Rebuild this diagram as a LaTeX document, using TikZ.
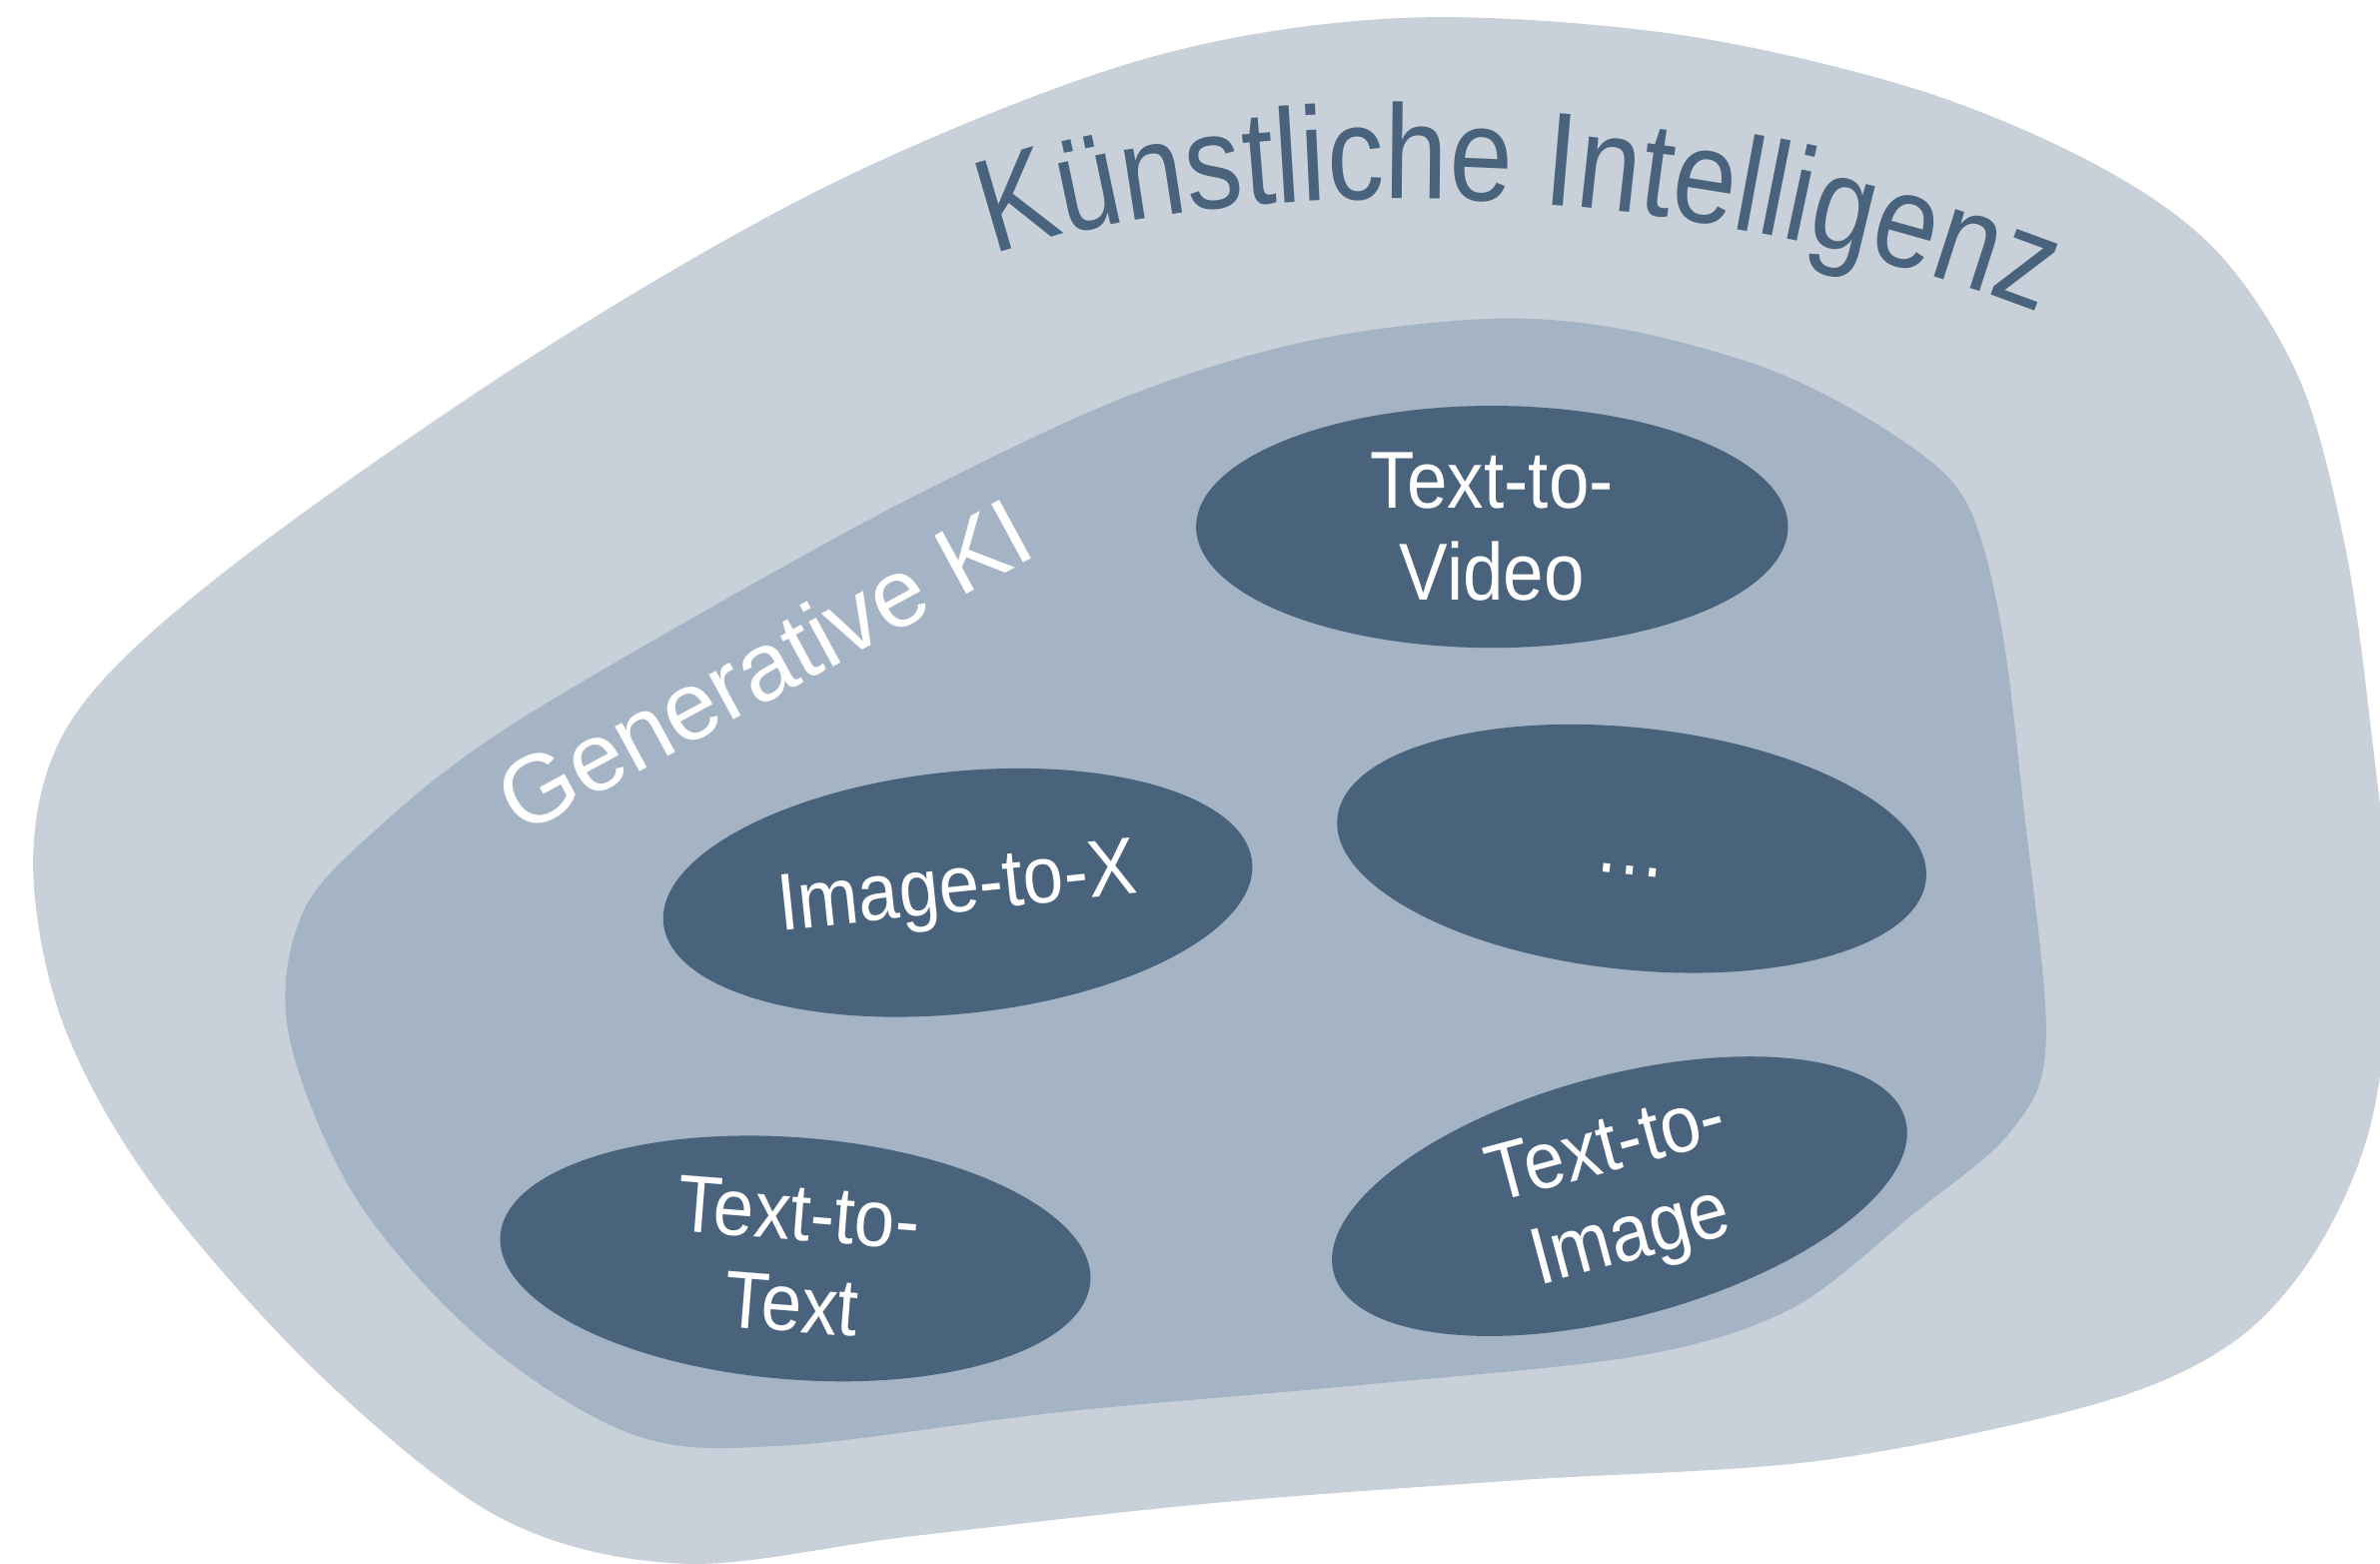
\documentclass[tikz,border=0pt]{standalone}
\usepackage{fontspec}
\setmainfont{Liberation Sans}
\newfontfamily\narrowsans[FakeStretch=0.9]{Liberation Sans}
\newfontfamily\archsans[FakeStretch=0.85]{Liberation Sans}
\usetikzlibrary{shapes.geometric,decorations.text}

\definecolor{kilight}{RGB}{200,208,217}
\definecolor{kimid}{RGB}{165,180,196}
\definecolor{kidark}{RGB}{74,99,125}

\tikzstyle{genmode} = [ellipse, fill=kidark, text=white, inner sep=0pt, align=center, minimum width=5.92cm, minimum height=2.42cm, font=\narrowsans\fontsize{23}{26}\selectfont]
\tikzstyle{fieldlabel} = [anchor=base, text=white, inner sep=0pt, font=\fontsize{27.5}{32}\selectfont]

\begin{document}
\begin{tikzpicture}[x=0.01519cm, y=-0.01519cm]
	\clip (0,0) rectangle (1568,1030);

	% outer field: KI
	\fill[kilight] plot[smooth cycle, tension=0.55] coordinates {(920,12) (1100,22) (1260,58) (1380,108) (1460,165) (1515,250) (1545,360) (1562,480) (1575,620) (1562,740) (1525,825) (1470,885) (1380,925) (1200,962) (1000,975) (800,990) (600,1012) (450,1030) (330,1000) (210,905) (100,780) (40,670) (22,560) (50,470) (150,375) (350,235) (550,120) (750,40)};
	\path[decorate, decoration={text along path, text align=center, text color=kidark, text={|\archsans\fontsize{38}{42}\selectfont|Künstliche Intelligenz}}] (650,170) .. controls (800,115) and (1100,110) .. (1348,208);

	% inner field: generative KI
	\fill[kimid] plot[smooth cycle, tension=0.55] coordinates {(980,210) (1070,217) (1170,245) (1250,288) (1295,330) (1318,410) (1333,530) (1348,685) (1325,745) (1260,800) (1180,862) (1080,893) (900,912) (700,930) (520,952) (420,946) (320,885) (235,790) (190,680) (200,600) (255,540) (330,482) (460,405) (600,328) (740,262) (860,225)};
	\node [fieldlabel, rotate=28.5] (genki) at (514,458) {Generative KI};

	\node [genmode] (t2v) at (983,347) {Text-to-\\Video};
	\node [genmode, rotate=-6] (etc) at (1075,559) {\rule{0pt}{15pt}…};
	\node [genmode, rotate=6] (i2x) at (631,588) {Image-to-X};
	\node [genmode, rotate=-4.5] (t2t) at (524,829) {Text-to-\\Text};
	\node [genmode, rotate=15] (t2i) at (1067,788) {Text-to-\\Image};
\end{tikzpicture}
\end{document}
